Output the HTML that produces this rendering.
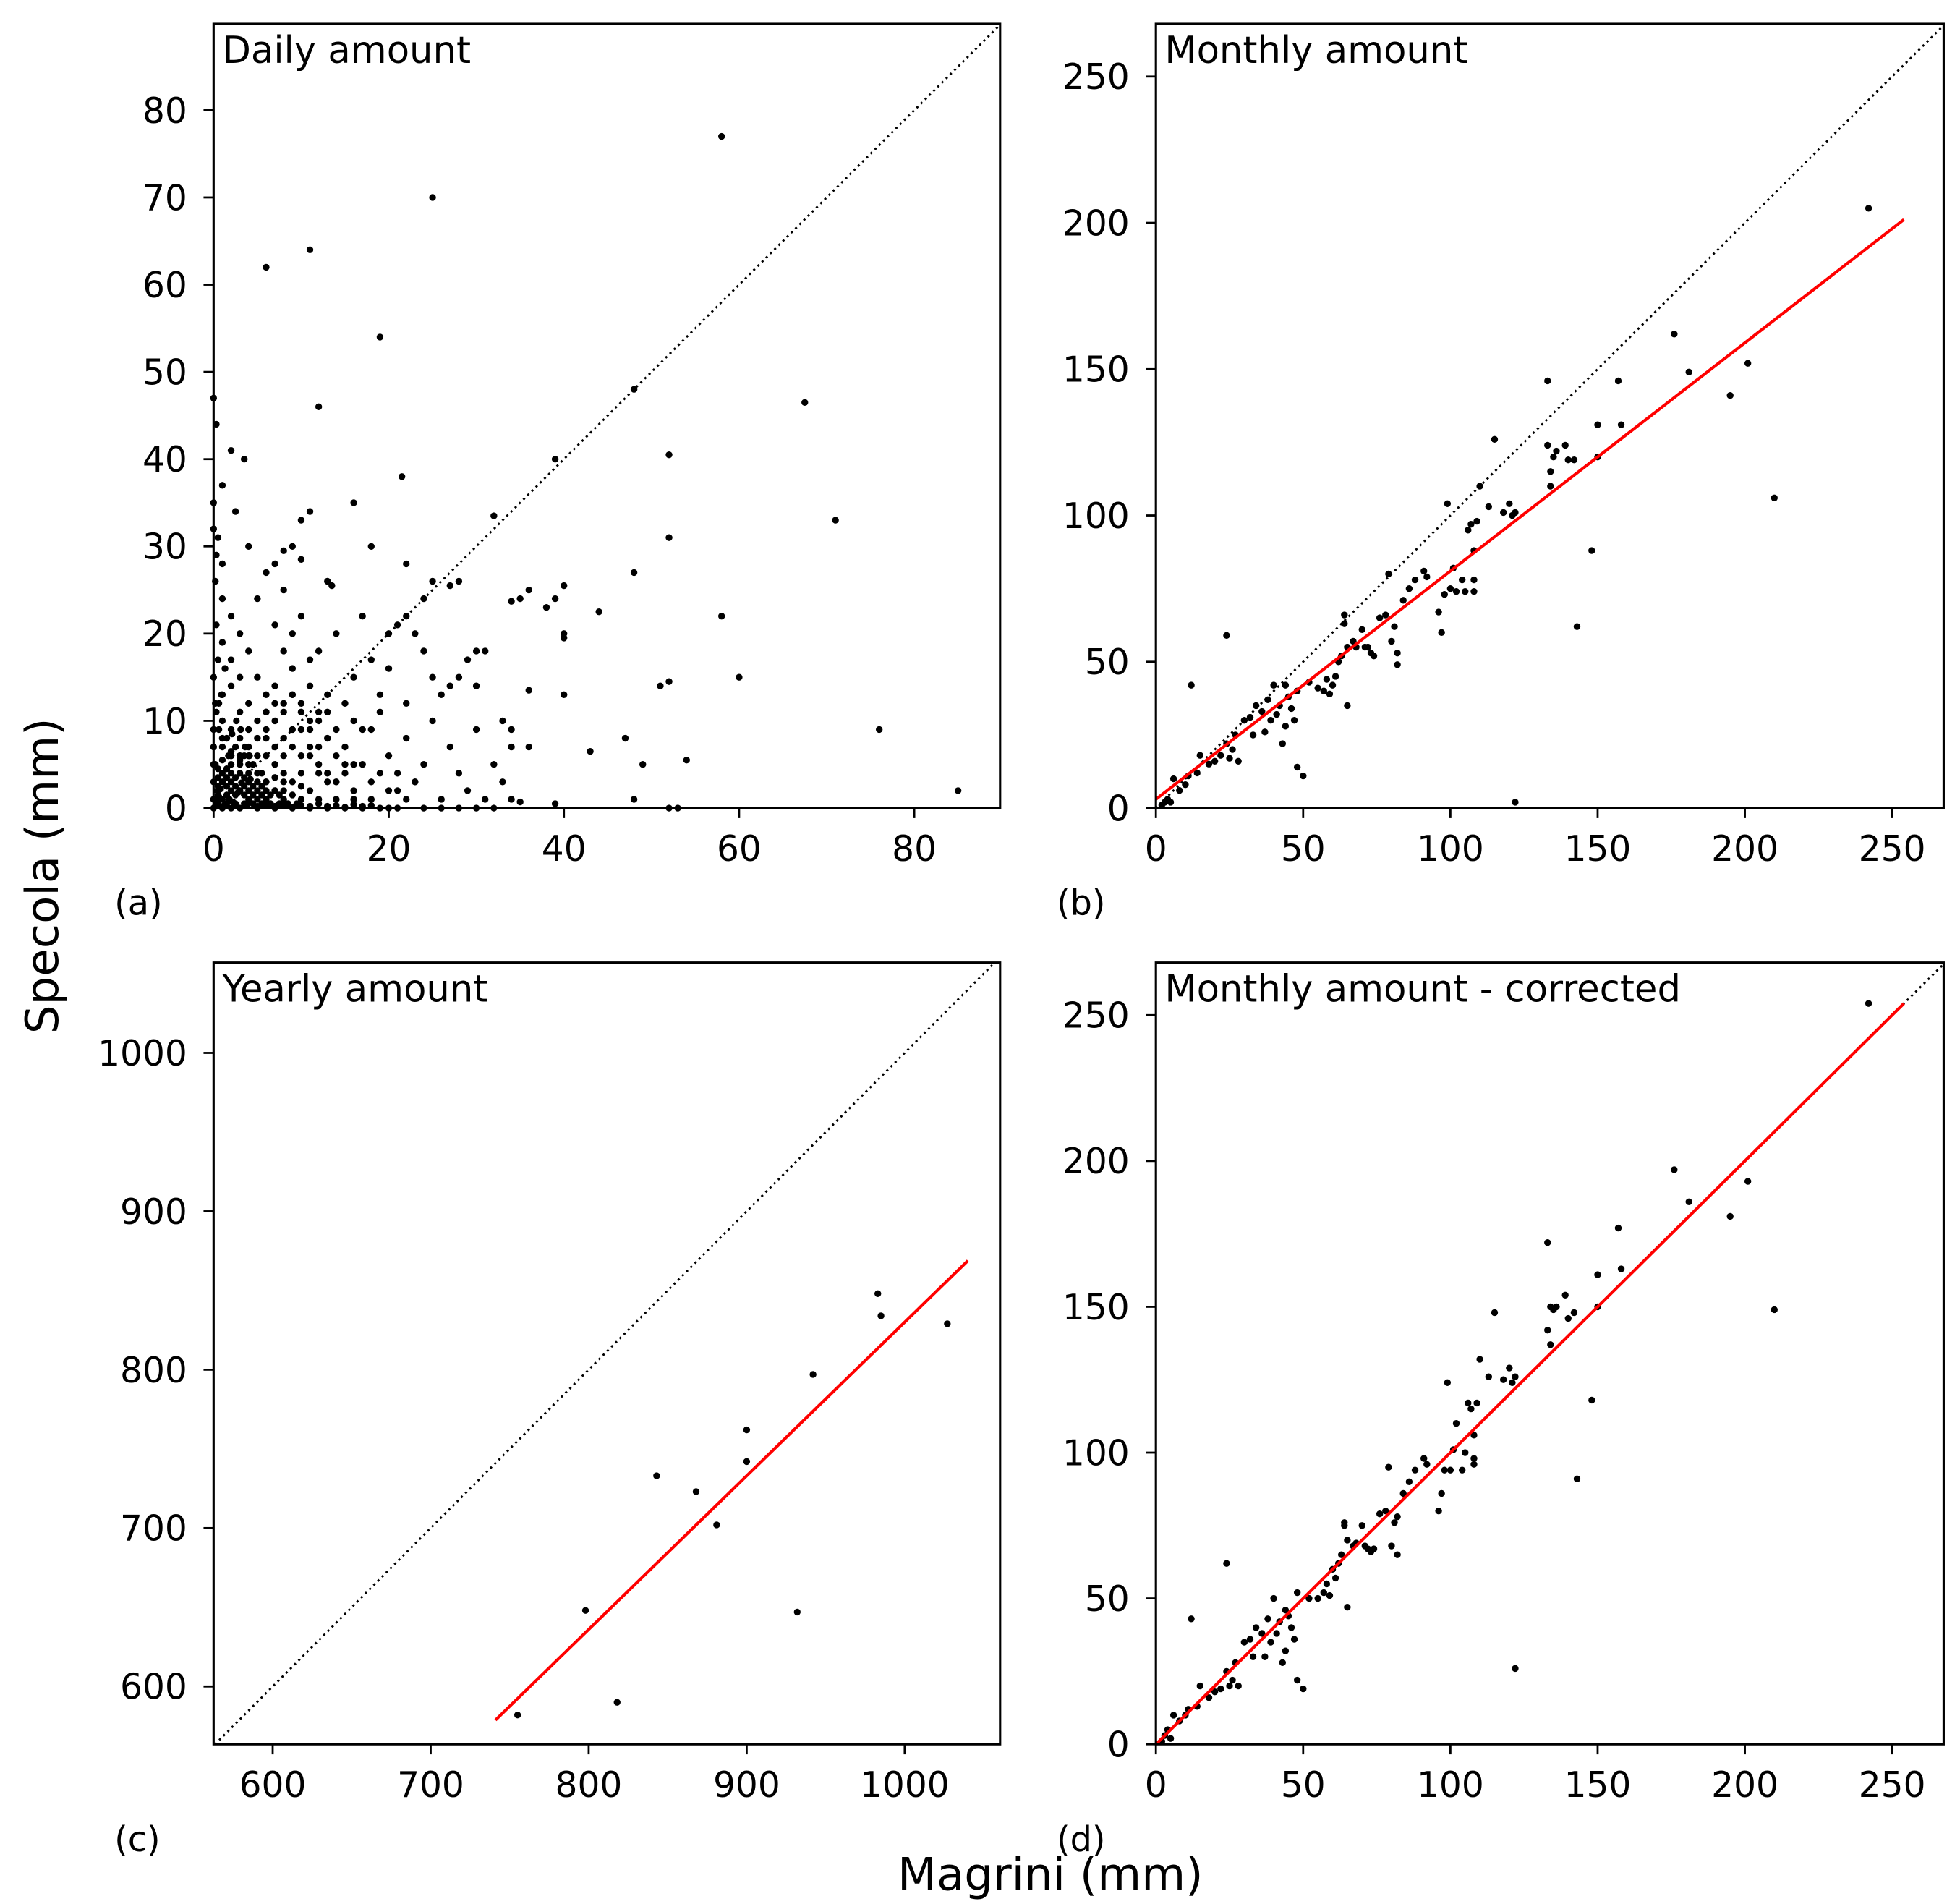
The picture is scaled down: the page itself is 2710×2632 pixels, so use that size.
<!DOCTYPE html>
<html><head><meta charset="utf-8"><style>html,body{margin:0;padding:0;background:#fff}svg{display:block}text{font-family:"DejaVu Sans","Liberation Sans",sans-serif;fill:#000}</style></head>
<body>
<svg id="fig" xmlns="http://www.w3.org/2000/svg" width="2710" height="2632" viewBox="0 0 1560 1515.1">
<rect width="1560" height="1515.1" fill="#fff"/>
<text transform="translate(46,697) rotate(-90)" text-anchor="middle" font-size="36">Specola (mm)</text>
<text x="836" y="1504" text-anchor="middle" font-size="36">Magrini (mm)</text>
</svg>
<script>
const aX=[58,25,11,6,19,12,67.5,48,39,52,21.5,3.5,16,11,10,71,32,52,48,1,0.3,0,2,2.5,0.5,1,7,8,9,10,4,18,22,13,13.5,25,27,28,36,40,35,34,38,39,44,40,40,40,36,43,47,49,48,52,51,58,60,54,76,85,52,53,39,35,30,29,31,27,26,23,21,22,24,20,18,17,14,16,19,15,12,13,10,8,6,5,7,9,6,4,3,2,1,0.5,0,0.2,1,2,3,4,5,6,7,8,9,10,11,12,13,14,15,16,17,18,19,20,21,22,23,24,25,26,27,28,29,30,31,32,33,34,36,25,24,28,30,33,34,22,20,19,17,16,15,14,13,12,11,10,9,8,7,6,5,4,3,2,1,0.5,0,0,0,0,0,0,1,1,2,2,3,3,4,4,5,5,6,6,7,7,8,8,9,9,10,10,11,11,12,13,13,14,15,16,17,18,19,20,21,22,24,26,28,30,32,34,12,11,9,8,7,6,5,4,3,2,2,1,1,3,4,5,6,7,8,9,11,3,2,1,0.3,0.2,0.3,0,0,
0.5,1.5,2.5,3.5,4.5,5.5,6.5,7.5,8.5,9.5,0.5,1.5,2.5,3.5,4.5,5.5,6.5,7.5,0.5,1.5,2.5,3.5,4.5,5.5,0.5,1.5,2.5,3.5,0.5,1.5,0.2,0.4,0.6,0.8,1.2,1.8,2.2,2.8,3.2,3.8,4.2,5,6,7,8,9,10,11,12,13,14,15,16,17,18,1,2,3,4,5,6,7,8,9,10,1.5,2.5,3.5,4.5,5.5,0.3,0.6,0.9,1.3,1.7,2.1,2.6,3.1,3.6,4.1,14,15,16,18,20,21,23,6,7,8,9,10,11,12,
1,2,3,4,5,6,7,8,2,3,4,5,6,1,2,3,10,11,12,13,14,0.2,0.4,0.6];
const aY=[77,70,64,62,54,46,46.5,48,40,40.5,38,40,35,34,33,33,33.5,31,27,37,44,47,41,34,31,28,28,29.5,30,28.5,30,30,28,26,25.5,26,25.5,26,25,25.5,24,23.7,23,24,22.5,20,19.5,13,13.5,6.5,8,5,1,14.5,14,22,15,5.5,9,2,0,0,0.5,0.7,18,17,18,14,13,20,21,22,24,20,17,22,20,15,13,12,18,11,22,25,27,24,21,16,13,18,20,22,19,17,15,12,10,14,8,12,6,9,5,11,7,9,6,4,8,3,7,2,5,9,4,6,2,8,3,5,10,1,7,4,2,9,1,5,3,7,7,15,18,15,14,10,9,12,16,11,9,10,5,9,13,10,14,12,13,8,10,3,10,5,2,6,4,2,0,1,3,5,7,9,1,0,0,2,0,4,1,3,0,2,1,6,0,2,1,4,0,3,1,4,0,2,1,0,3,1,0,1,0,1,0,0,0,1,0,0,0,0,0,1,7,9,9,6,7,8,8,7,6,4,9,7,13,11,9,15,11,14,18,20,17,15,17,24,21,26,29,32,35,
0.5,0.5,0.5,0.5,0.5,0.5,0.5,0.5,0.5,0.5,1.5,1.5,1.5,1.5,1.5,1.5,1.5,1.5,2.5,2.5,2.5,2.5,2.5,2.5,3.5,3.5,3.5,3.5,4.5,4.5,0.2,0.8,1.3,2.2,0.3,1,0.7,1.8,2.9,0.4,3.3,0.2,0.3,0.2,0.4,0.1,0.3,0.2,0.5,0.2,0.3,0.1,0.4,0.2,0.3,5.5,6.5,5.5,6,4,3,3.5,2,1.5,2.5,8,7,6,5,4,11,12,13,16,6,8.5,10,9,7,6,6,4,5,3,2,4,3,11,12,12,13,11,10,11,
3,3,2,2,1,1,2,3,5,6,4,3,2,8,6,5,6,7,5,4,3,5,2,9];
const bX=[2,3,4,5,6,8,10,11,12,14,15,18,20,22,24,24,25,26,27,28,30,32,33,34,36,37,38,39,40,41,42,43,44,44,45,46,47,48,48,50,52,55,57,58,59,60,61,62,63,64,64,65,65,67,68,70,71,72,73,74,76,78,79,80,81,82,82,84,86,88,91,92,96,97,98,99,100,101,102,104,105,106,107,108,108,108,109,110,113,115,118,120,121,122,122,133,133,134,134,135,136,139,140,142,143,148,150,150,157,158,176,181,195,201,210,242];
const bY=[1,2,3,2,10,6,8,11,42,12,18,15,16,18,22,59,17,20,25,16,30,31,25,35,33,26,37,30,42,32,35,22,28,42,38,34,30,40,14,11,43,41,40,44,39,42,45,50,52,66,63,35,55,57,55,61,55,55,53,52,65,66,80,57,62,53,49,71,75,78,81,79,67,60,73,104,75,82,74,78,74,95,97,74,78,88,98,110,103,126,101,104,100,101,2,146,124,110,115,120,122,124,119,119,62,88,131,120,146,131,162,149,141,152,106,205];
const dY=[1,3,5,2,10,8,10,12,43,13,20,16,18,19,25,62,20,22,28,20,35,36,30,40,38,30,43,35,50,38,42,28,32,46,44,40,36,52,22,19,50,50,52,55,51,60,57,62,65,76,75,47,70,68,69,75,68,67,66,67,79,80,95,68,76,78,65,86,90,94,98,96,80,86,94,124,94,101,110,94,100,117,115,96,98,106,117,132,126,148,125,129,124,126,26,172,142,150,137,149,150,154,146,148,91,118,161,150,177,163,197,186,181,193,149,254];
const cX=[755,798,818,843,868,881,900,900,932,942,983,985,1027];
const cY=[582,648,590,733,723,702,762,742,647,797,848,834,829];
const aTicks=[0,10,20,30,40,50,60,70,80], aXTicks=[0,20,40,60,80];
const bTicks=[0,50,100,150,200,250];
const cTicks=[600,700,800,900,1000];
const fitB=[3,0.78,0,254], fitC=[-140,0.97,741,1040], fitD=[0,1,0,254];
const NS='http://www.w3.org/2000/svg';
const fig=document.getElementById('fig');
function el(t,a,p){const e=document.createElementNS(NS,t);for(const k in a)e.setAttribute(k,a[k]);(p||fig).appendChild(e);return e;}
function panel(name,L,T,R,B,xmin,xmax,ymin,ymax,xt,yt,title,lab,xs,ys,fit){
 const g=el('g',{});
 
 
 const sx=v=>L+(v-xmin)/(xmax-xmin)*(R-L), sy=v=>B-(v-ymin)/(ymax-ymin)*(B-T);
 const lo=Math.max(xmin,ymin),hi=Math.min(xmax,ymax);
 const diag=el('line',{x1:sx(lo),y1:sy(lo),x2:sx(hi),y2:sy(hi),stroke:'#000','stroke-width':1.7,'stroke-dasharray':'1.7,3'},g);
 
 
 for(let i=0;i<xs.length;i++){const c=el('circle',{cx:sx(xs[i]),cy:sy(ys[i]),r:2.7,fill:'#000'},g);
  
  }
 if(fit){const l=el('line',{x1:sx(fit[2]),y1:sy(fit[0]+fit[1]*fit[2]),x2:sx(fit[3]),y2:sy(fit[0]+fit[1]*fit[3]),stroke:'#f00','stroke-width':2.4},g);
  
  }
 const fr=el('rect',{x:L,y:T,width:R-L,height:B-T,fill:'none',stroke:'#000','stroke-width':1.8},g);
 
 
 xt.forEach(v=>{const x=sx(v);el('line',{x1:x,y1:B,x2:x,y2:B+8,stroke:'#000','stroke-width':1.6},g);
  const t=el('text',{x:x,y:B+42,'text-anchor':'middle','font-size':28},g);t.textContent=v;
  
  });
 yt.forEach(v=>{const y=sy(v);el('line',{x1:L,y1:y,x2:L-8,y2:y,stroke:'#000','stroke-width':1.6},g);
  const t=el('text',{x:L-21,y:y+10,'text-anchor':'end','font-size':28},g);t.textContent=v;
  
  });
 const tt=el('text',{x:L+7,y:T+31,'font-size':29.5},g);tt.textContent=title;
 
 
 const pl=el('text',{x:L-79,y:B+85,'font-size':27.5},g);pl.textContent=lab;
 
 
}
panel('panel-a-daily',170,19,796,643,0,89.8,0,89.9,aXTicks,aTicks,'Daily amount','(a)',aX,aY,null);
panel('panel-b-monthly',920,19,1547,643,0,267.5,0,268,bTicks,bTicks,'Monthly amount','(b)',bX,bY,fitB);
panel('panel-c-yearly',170,766,796,1388,562.6,1060.4,563.5,1057,cTicks,cTicks,'Yearly amount','(c)',cX,cY,fitC);
panel('panel-d-corrected',920,766,1547,1388,0,267.5,0,268,bTicks,bTicks,'Monthly amount - corrected','(d)',bX,dY,fitD);
</script>
</body></html>
